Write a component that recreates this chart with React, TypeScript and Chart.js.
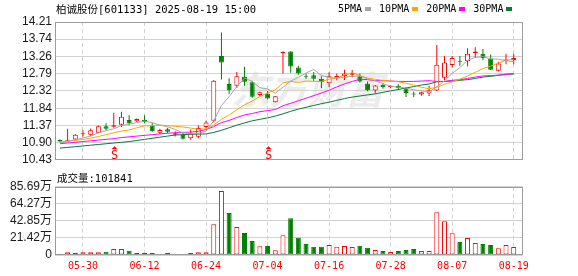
import React, { useEffect, useRef } from "react";
import { Chart, registerables } from "chart.js";

Chart.register(...registerables);

// ---- Data ----
const stockName = "柏诚股份";
const stockCode = "601133";
const dateTime = "2025-08-19 15:00";
const lastVolume = 101841;

const dateLabels = ["05-30", "06-12", "06-24", "07-04", "07-16", "07-28", "08-07", "08-19"];
const dateTickIdx = [3, 11, 19, 27, 35, 43, 51, 59];

const opens = [
  10.97, 10.95, 10.99, 11.13, 11.12, 11.17, 11.35, 11.34, 11.39, 11.52,
  11.49, 11.53, 11.37, 11.17, 11.27, 11.12, 11.12, 11.02, 11.06, 11.33,
  11.5, 13.28, 12.51, 12.46, 12.71, 12.56, 12.21, 12.24, 12.01, 13.35,
  13.4, 12.96, 12.73, 12.75, 12.65, 12.53, 12.67, 12.73, 12.76, 12.72,
  12.52, 12.33, 12.49, 12.43, 12.46, 12.39, 12.23, 12.22, 12.25, 12.33,
  12.68, 13.03, 13.13, 13.13, 13.36, 13.34, 13.21, 12.87, 13.14, 13.17,
];
const closes = [
  10.93, 10.98, 11.12, 11.15, 11.24, 11.35, 11.28, 11.38, 11.61, 11.43,
  11.55, 11.47, 11.21, 11.25, 11.2, 11.16, 11.01, 11.15, 11.3, 11.45,
  12.6, 13.1, 12.34, 12.72, 12.57, 12.16, 12.28, 12.11, 12.17, 13.39,
  12.99, 12.8, 12.71, 12.65, 12.56, 12.72, 12.73, 12.8, 12.81, 12.58,
  12.34, 12.47, 12.42, 12.45, 12.4, 12.26, 12.22, 12.28, 12.34, 13.04,
  13.1, 13.22, 13.12, 13.34, 13.4, 13.22, 12.9, 13.07, 13.18, 13.22,
];
const highs = [
  10.99, 11.28, 11.14, 11.24, 11.29, 11.37, 11.43, 11.72, 11.75, 11.65,
  11.56, 11.65, 11.44, 11.28, 11.31, 11.21, 11.17, 11.26, 11.37, 11.5,
  12.62, 13.92, 12.67, 12.84, 12.98, 12.6, 12.3, 12.32, 12.18, 13.4,
  13.41, 13.01, 12.8, 12.84, 12.72, 12.83, 12.8, 12.9, 12.89, 12.8,
  12.58, 12.48, 12.52, 12.47, 12.5, 12.42, 12.3, 12.3, 12.46, 13.58,
  13.28, 13.28, 13.28, 13.49, 13.52, 13.47, 13.32, 13.12, 13.34, 13.34,
];
const lows = [
  10.91, 10.94, 10.97, 11.07, 11.08, 11.16, 11.25, 11.31, 11.33, 11.38,
  11.47, 11.44, 11.2, 11.14, 11.16, 11.07, 10.99, 10.98, 11.02, 11.31,
  11.45, 12.63, 12.24, 12.4, 12.46, 12.13, 12.18, 12.09, 12.0, 12.8,
  12.82, 12.76, 12.65, 12.59, 12.4, 12.43, 12.61, 12.62, 12.69, 12.55,
  12.31, 12.25, 12.38, 12.4, 12.35, 12.15, 12.15, 12.19, 12.18, 12.32,
  12.62, 12.96, 13.01, 12.99, 13.22, 13.16, 12.89, 12.85, 13.05, 13.05,
];
// volume in 万 (10k shares)
const volumes = [
  1.7, 3.3, 2.5, 3.3, 3.3, 3.3, 4.2, 7.5, 7.5, 5.4,
  2.5, 2.5, 2.5, 1.3, 2.5, 1.3, 1.3, 2.5, 3.3, 3.3,
  38.5, 80.3, 52.7, 35.1, 27.6, 17.6, 10.9, 11.3, 5.9, 24.7,
  46.0, 21.7, 13.8, 10.5, 10.5, 12.5, 10.5, 11.3, 10.0, 11.7,
  9.2, 6.3, 5.0, 3.8, 5.0, 6.3, 7.5, 5.0, 5.0, 53.5,
  42.2, 27.2, 16.3, 21.3, 15.1, 13.8, 12.5, 8.4, 12.5, 10.18,
];
const ma5 = [
  10.9, 10.93, 10.98, 11.03, 11.08, 11.17, 11.23, 11.28, 11.37, 11.41,
  11.45, 11.49, 11.45, 11.38, 11.34, 11.26, 11.17, 11.15, 11.16, 11.21,
  11.5, 11.92, 12.16, 12.44, 12.67, 12.58, 12.41, 12.37, 12.26, 12.42,
  12.59, 12.69, 12.81, 12.91, 12.74, 12.69, 12.67, 12.69, 12.72, 12.73,
  12.65, 12.6, 12.52, 12.45, 12.42, 12.4, 12.35, 12.32, 12.3, 12.43,
  12.6, 12.8, 12.96, 13.16, 13.24, 13.26, 13.2, 13.19, 13.15, 13.12,
];
const ma10 = [
  10.92, 10.94, 10.96, 10.99, 11.02, 11.07, 11.12, 11.17, 11.22, 11.25,
  11.31, 11.36, 11.37, 11.38, 11.37, 11.35, 11.33, 11.3, 11.27, 11.28,
  11.38, 11.54, 11.66, 11.8, 11.94, 12.04, 12.17, 12.26, 12.35, 12.54,
  12.58, 12.55, 12.59, 12.58, 12.58, 12.64, 12.68, 12.75, 12.82, 12.74,
  12.67, 12.64, 12.61, 12.59, 12.57, 12.53, 12.48, 12.42, 12.38, 12.42,
  12.5, 12.57, 12.64, 12.73, 12.83, 12.93, 13.0, 13.08, 13.16, 13.18,
];
const ma20 = [
  10.87, 10.89, 10.91, 10.93, 10.95, 10.97, 10.99, 11.01, 11.04, 11.06,
  11.08, 11.1, 11.12, 11.14, 11.16, 11.17, 11.18, 11.19, 11.21, 11.26,
  11.34, 11.45, 11.51, 11.59, 11.66, 11.7, 11.75, 11.78, 11.81, 11.91,
  11.98, 12.05, 12.12, 12.19, 12.26, 12.34, 12.43, 12.51, 12.58, 12.64,
  12.63, 12.6, 12.6, 12.59, 12.58, 12.58, 12.58, 12.59, 12.6, 12.58,
  12.58, 12.61, 12.63, 12.66, 12.7, 12.73, 12.74, 12.75, 12.77, 12.8,
];
const ma30 = [
  10.75, 10.77, 10.79, 10.81, 10.83, 10.85, 10.87, 10.89, 10.91, 10.93,
  10.96, 10.99, 11.02, 11.05, 11.08, 11.11, 11.12, 11.13, 11.135, 11.14,
  11.18, 11.24, 11.31, 11.38, 11.44, 11.5, 11.54, 11.58, 11.63, 11.69,
  11.76, 11.82, 11.87, 11.92, 11.97, 12.01, 12.06, 12.11, 12.15, 12.18,
  12.21, 12.24, 12.28, 12.32, 12.36, 12.4, 12.44, 12.48, 12.51, 12.57,
  12.58, 12.59, 12.61, 12.63, 12.66, 12.7, 12.72, 12.75, 12.78, 12.78,
];
const priceTicks = [14.21, 13.74, 13.26, 12.79, 12.32, 11.84, 11.37, 10.9, 10.43];
const volTicks = [0, 21.42, 42.85, 64.27, 85.69];
const sellSignals = [7, 27];

const maNames = ["5PMA", "10PMA", "20PMA", "30PMA"];
const maColors = ["#a6a6a6", "#ffa500", "#ff00ff", "#087a3a"];
const maSeries = [ma5, ma10, ma20, ma30];

// ---- Styling ----
const RED = "#ff0000";
const GREEN = "#008000";
const GRID = "#d2d2d2";
const BORDER = "#9c9c9c";
const X_MIN = -0.64;
const X_MAX = 60.17;

const candleUp = closes.map((c, i) => c >= opens[i]);
const volUp = closes.map((c, i) => (i === 0 ? c >= opens[0] : c >= closes[i - 1]));

const boxPlugin = {
  id: "box",
  afterDraw(chart: any) {
    const { ctx, chartArea: a } = chart;
    ctx.save();
    ctx.strokeStyle = BORDER;
    ctx.lineWidth = 1;
    const l = Math.round(a.left) + 0.5;
    const t = Math.round(a.top) + 0.5;
    const r = Math.round(a.right) - 0.5;
    const b = Math.round(a.bottom) - 0.5;
    ctx.strokeRect(l, t, r - l, b - t);
    ctx.restore();
  },
};

const watermarkPlugin = {
  id: "watermark",
  beforeDraw(chart: any) {
    const { ctx, chartArea: a } = chart;
    if (!a) return;
    ctx.save();
    ctx.font = 'italic bold 38px "Noto Sans CJK SC"';
    ctx.fillStyle = "#ececec";
    ctx.textAlign = "center";
    ctx.textBaseline = "middle";
    ctx.fillText("东方财富", a.left + a.width * 0.54, a.top + a.height * 0.49);
    ctx.restore();
  },
};

const signalPlugin = {
  id: "signals",
  afterDatasetsDraw(chart: any) {
    const { ctx, chartArea: a, scales } = chart;
    const xs = scales.x;
    ctx.save();
    ctx.fillStyle = RED;
    sellSignals.forEach((i) => {
      const px = Math.round(xs.getPixelForValue(i)) + 0.5;
      const b = a.bottom;
      ctx.beginPath();
      ctx.moveTo(px, b - 13.5);
      ctx.lineTo(px - 3, b - 10.5);
      ctx.lineTo(px + 3, b - 10.5);
      ctx.closePath();
      ctx.fill();
      ctx.font = '12px "DejaVu Sans Mono"';
      ctx.textAlign = "center";
      ctx.textBaseline = "alphabetic";
      ctx.fillText("S", px, b - 1);
    });
    ctx.restore();
  },
};

function xScale(showLabels: boolean): any {
  return {
    type: "linear",
    min: X_MIN,
    max: X_MAX,
    offset: false,
    afterBuildTicks: (s: any) => {
      s.ticks = dateTickIdx.map((v) => ({ value: v }));
    },
    afterFit: (s: any) => {
      s.height = showLabels ? 21 : 0;
    },
    grid: { color: GRID, lineWidth: 1, drawTicks: false, offset: false },
    border: { display: false, dash: [4, 3] },
    ticks: {
      display: showLabels,
      autoSkip: false,
      maxRotation: 0,
      padding: 5,
      color: RED,
      font: { family: "DejaVu Sans Mono", size: 10 },
      callback: (_v: any, i: number) => dateLabels[i],
    },
  };
}

export default function App() {
  const priceRef = useRef<HTMLCanvasElement>(null);
  const volRef = useRef<HTMLCanvasElement>(null);

  useEffect(() => {
    const idx = closes.map((_, i) => i);

    const priceChart = new Chart(priceRef.current as HTMLCanvasElement, {
      type: "bar",
      data: {
        datasets: [
          ...maSeries.map((s, k) => ({
            type: "line" as const,
            label: maNames[k],
            data: s.map((v, i) => ({ x: i, y: v })),
            borderColor: maColors[k],
            borderWidth: 1,
            pointRadius: 0,
            tension: 0,
            fill: false,
            order: 0,
          })),
          {
            type: "bar" as const,
            label: "body",
            data: idx.map((i) => ({ x: i, y: [opens[i], closes[i]] })) as any,
            backgroundColor: idx.map((i) => (candleUp[i] ? "#ffffff" : GREEN)),
            borderColor: idx.map((i) => (candleUp[i] ? RED : GREEN)),
            borderWidth: 1,
            borderSkipped: false,
            barThickness: 5,
            grouped: false,
            minBarLength: 1,
            inflateAmount: 0,
            order: 1,
          },
          {
            type: "bar" as const,
            label: "wick",
            data: idx.map((i) => ({ x: i, y: [lows[i], highs[i]] })) as any,
            backgroundColor: idx.map((i) => (candleUp[i] ? RED : GREEN)),
            borderWidth: 0,
            barThickness: 1,
            grouped: false,
            inflateAmount: 0,
            order: 2,
          },
        ],
      },
      options: {
        responsive: false,
        maintainAspectRatio: false,
        animation: false,
        events: [],
        layout: { padding: { top: 22, right: 55.3, bottom: 5, left: 0 } },
        plugins: { legend: { display: false }, tooltip: { enabled: false } },
        scales: {
          x: xScale(false),
          y: {
            type: "linear",
            min: 10.43,
            max: 14.21,
            afterBuildTicks: (s: any) => {
              s.ticks = priceTicks.map((v) => ({ value: v }));
            },
            afterFit: (s: any) => {
              s.width = 55;
            },
            grid: { color: GRID, drawTicks: false },
            border: { display: false },
            ticks: {
              autoSkip: false,
              padding: 3,
              color: "#1a1a1a",
              font: { family: "Liberation Sans", size: 12 },
              callback: (v: any) => Number(v).toFixed(2),
            },
          },
        },
      } as any,
      plugins: [watermarkPlugin, signalPlugin, boxPlugin],
    });

    const volChart = new Chart(volRef.current as HTMLCanvasElement, {
      type: "bar",
      data: {
        datasets: [
          {
            label: "成交量",
            data: idx.map((i) => ({ x: i, y: volumes[i] })) as any,
            backgroundColor: idx.map((i) => (volUp[i] ? "#ffffff" : GREEN)),
            borderColor: idx.map((i) => (volUp[i] ? RED : GREEN)),
            borderWidth: 1,
            borderSkipped: false,
            barThickness: 5,
            grouped: false,
            inflateAmount: 0,
          },
        ],
      },
      options: {
        responsive: false,
        maintainAspectRatio: false,
        animation: false,
        events: [],
        layout: { padding: { top: 16.7, right: 55.3, bottom: 0, left: 0 } },
        plugins: { legend: { display: false }, tooltip: { enabled: false } },
        scales: {
          x: xScale(true),
          y: {
            type: "linear",
            min: 0,
            max: 85.69,
            afterBuildTicks: (s: any) => {
              s.ticks = volTicks.map((v) => ({ value: v }));
            },
            afterFit: (s: any) => {
              s.width = 55;
            },
            grid: { color: GRID, drawTicks: false },
            border: { display: false },
            ticks: {
              autoSkip: false,
              padding: 3,
              color: "#1a1a1a",
              font: { family: "'Liberation Sans', 'Noto Sans CJK SC'", size: 12 },
              callback: (v: any) => (Number(v) === 0 ? "0" : Number(v).toFixed(2) + "万"),
            },
          },
        },
      } as any,
      plugins: [boxPlugin],
    });

    return () => {
      priceChart.destroy();
      volChart.destroy();
    };
  }, []);

  const textFont = '10.5px "DejaVu Sans Mono", "Noto Sans CJK SC"';

  return (
    <div
      style={{
        position: "fixed",
        left: 0,
        top: 0,
        width: 578,
        height: 276,
        background: "#ffffff",
        overflow: "hidden",
      }}
    >
      <canvas
        ref={priceRef}
        width={578}
        height={170}
        style={{ position: "absolute", left: 0, top: 0, width: 578, height: 170 }}
      />
      <canvas
        ref={volRef}
        width={578}
        height={106}
        style={{ position: "absolute", left: 0, top: 170, width: 578, height: 106 }}
      />
      <div
        style={{
          position: "absolute",
          left: 56,
          top: 3,
          font: textFont,
          lineHeight: "12px",
          color: "#000",
          whiteSpace: "pre",
        }}
      >
        {`${stockName}[${stockCode}] ${dateTime}`}
      </div>
      <div
        style={{
          position: "absolute",
          left: 338,
          top: 3,
          display: "flex",
          alignItems: "center",
          font: '10px "DejaVu Sans Mono"',
          lineHeight: "12px",
          color: "#000",
          whiteSpace: "pre",
        }}
      >
        {maNames.map((n, k) => (
          <span key={n} style={{ display: "flex", alignItems: "center", marginRight: 8 }}>
            <span>{n}</span>
            <span
              style={{
                display: "inline-block",
                width: 6,
                height: 4,
                marginLeft: 3,
                background: maColors[k],
              }}
            />
          </span>
        ))}
      </div>
      <div
        style={{
          position: "absolute",
          left: 57,
          top: 172,
          font: textFont,
          lineHeight: "12px",
          color: "#000",
          whiteSpace: "pre",
        }}
      >
        {`成交量:${lastVolume}`}
      </div>
    </div>
  );
}
